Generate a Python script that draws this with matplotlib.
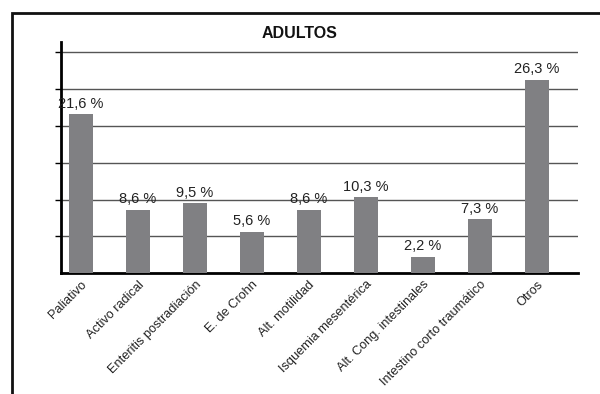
import matplotlib.pyplot as plt
from matplotlib.patches import Rectangle

categorias = ["Paliativo", "Activo radical", "Enteritis postradiación", "E. de Crohn",
              "Alt. motilidad", "Isquemia mesentérica", "Alt. Cong. intestinales",
              "Intestino corto traumático", "Otros"]
valores = [21.6, 8.6, 9.5, 5.6, 8.6, 10.3, 2.2, 7.3, 26.3]
etiquetas = ["21,6 %", "8,6 %", "9,5 %", "5,6 %", "8,6 %", "10,3 %", "2,2 %", "7,3 %", "26,3 %"]
ticks_y = [5, 10, 15, 20, 25, 30]

plt.rcParams['font.family'] = ['Liberation Sans', 'DejaVu Sans']

fig = plt.figure(figsize=(6, 3.94), dpi=100)
ax = fig.add_axes([0.1017, 0.307, 0.861, 0.586])

# marco exterior (recortado a derecha y abajo)
fig.patches.append(Rectangle((12 / 600, -0.1), 1.1, 1 - 13 / 394 + 0.1, transform=fig.transFigure,
                             fill=False, edgecolor="#111111", linewidth=2, clip_on=False))

x = range(len(categorias))
ax.bar(x, valores, width=0.42, color="#808083", zorder=3)

for xi, v, t in zip(x, valores, etiquetas):
    ax.text(xi, v + 0.5, t, ha="center", va="bottom", fontsize=10.5, color="#222222")

ax.set_ylim(0, 31.4)
ax.set_xlim(-0.35, 8.72)
ax.set_yticks(ticks_y)
ax.set_yticklabels([])
ax.yaxis.grid(True, color="#555555", linewidth=1)
ax.set_axisbelow(True)
ax.tick_params(axis="y", length=4, width=1, direction="out")
ax.tick_params(axis="x", length=0, pad=4)

ax.set_xticks(list(x))
ax.set_xticklabels(categorias, rotation=45, ha="right", rotation_mode="anchor",
                   fontsize=9.2, color="#222222")

for s in ["top", "right"]:
    ax.spines[s].set_visible(False)
ax.spines["left"].set_linewidth(2)
ax.spines["bottom"].set_linewidth(2)

fig.text(0.5, 1 - 33 / 394, "ADULTOS", ha="center", va="center", fontsize=11.5,
         fontweight="bold", color="#111111")

plt.savefig("out.png", dpi=100)
